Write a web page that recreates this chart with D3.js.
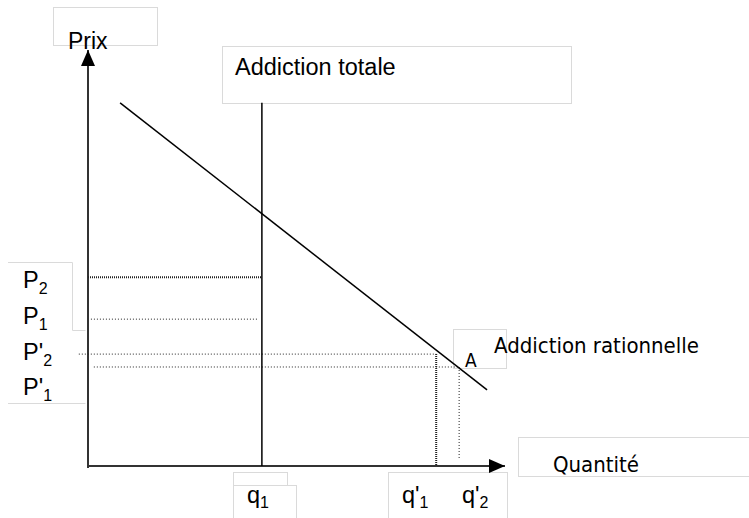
<!DOCTYPE html>
<html>
<head>
<meta charset="utf-8">
<script src="https://cdn.jsdelivr.net/npm/d3@7"></script>
<style>
  body { margin: 0; background: #fff; }
  text { fill: #000; }
</style>
</head>
<body>
<div id="dataviz"></div>
<script>
// values in diagram units (quantity 0..10, price 0..10)
const demandQ = [0.77, 9.57];
const demandP = [8.73, 1.83];
const totalQ = 4.17;          // addiction totale (vertical)
const totalTopP = 8.73;
const priceNames = ["P2", "P1", "P'2", "P'1"];
const priceVals = [4.54, 3.53, 2.69, 2.38];
const priceFromQ = [0, 0.07, -0.22, 0.14];
const priceToQ = [4.17, 4.08, 8.35, 8.9];
const qNames = ["q1", "q'1", "q'2"];
const qVals = [4.17, 8.35, 8.9];
const qTopP = [null, 2.69, 2.38];
const qBottomP = [null, 0, 0.19];

const width = 749, height = 518;

const svg = d3.select("#dataviz")
  .append("svg")
  .attr("width", width)
  .attr("height", height);

const x = d3.scaleLinear().domain([0, 10]).range([88, 505]);
const y = d3.scaleLinear().domain([0, 10]).range([466, 50]);

// faint text boxes (layout only)
const boxes = [
  [53, 7, 104, 38], [222, 46, 349, 57],
  [453, 329, 53, 39], [233, 472, 54, 50], [233, 485, 63, 40],
  [388, 472, 119, 50], [518, 437, 240, 39]
];
svg.selectAll("rect.box")
  .data(boxes)
  .join("rect")
  .attr("class", "box")
  .attr("x", d => d[0] + 0.5).attr("y", d => d[1] + 0.5)
  .attr("width", d => d[2]).attr("height", d => d[3])
  .attr("fill", "#fff")
  .attr("stroke", "#dadada");

// open box edges behind the price labels
svg.append("path")
  .attr("d", "M8,262.5H72.5V330.5H85.5M8,403.5H85.5")
  .attr("fill", "none")
  .attr("stroke", "#dadada");

// arrow marker
const defs = svg.append("defs");
defs.append("marker")
  .attr("id", "arrow")
  .attr("viewBox", "0 0 16 14")
  .attr("refX", 16).attr("refY", 7)
  .attr("markerWidth", 16).attr("markerHeight", 14)
  .attr("markerUnits", "userSpaceOnUse")
  .attr("orient", "auto")
  .append("path")
  .attr("d", "M0,0L16,7L0,14Z")
  .attr("fill", "#000");

// axes
svg.append("line")
  .attr("x1", x(0)).attr("y1", y(-0.05))
  .attr("x2", x(0)).attr("y2", y(10))
  .attr("stroke", "#333").attr("stroke-width", 2)
  .attr("marker-end", "url(#arrow)");
svg.append("line")
  .attr("x1", x(0)).attr("y1", y(0))
  .attr("x2", x(10)).attr("y2", y(0))
  .attr("stroke", "#333").attr("stroke-width", 2)
  .attr("marker-end", "url(#arrow)");

// price dotted lines
svg.selectAll("line.pline")
  .data(priceVals)
  .join("line")
  .attr("class", "pline")
  .attr("x1", (d, i) => x(priceFromQ[i]))
  .attr("x2", (d, i) => x(priceToQ[i]))
  .attr("y1", d => y(d)).attr("y2", d => y(d))
  .attr("stroke", "#222")
  .attr("stroke-width", (d, i) => i == 0 ? 2 : 1)
  .attr("stroke-dasharray", (d, i) => i == 0 ? "1,1" : "1,2");

// quantity dotted lines
svg.selectAll("line.qline")
  .data(qVals.slice(1))
  .join("line")
  .attr("class", "qline")
  .attr("x1", d => x(d)).attr("x2", d => x(d))
  .attr("y1", (d, i) => y(qTopP[i + 1]))
  .attr("y2", (d, i) => y(qBottomP[i + 1]))
  .attr("stroke", "#222")
  .attr("stroke-width", (d, i) => i == 0 ? 2 : 1)
  .attr("stroke-dasharray", (d, i) => i == 0 ? "1,1" : "1,2");

// addiction totale
svg.append("line")
  .attr("x1", x(totalQ)).attr("x2", x(totalQ))
  .attr("y1", y(totalTopP)).attr("y2", y(0))
  .attr("stroke", "#000").attr("stroke-width", 1.5);

// demand
svg.append("line")
  .attr("x1", x(demandQ[0])).attr("y1", y(demandP[0]))
  .attr("x2", x(demandQ[1])).attr("y2", y(demandP[1]))
  .attr("stroke", "#000").attr("stroke-width", 1.5);

// texts
const arial = "'Liberation Sans', Arial, sans-serif";
const tahoma = "'DejaVu Sans Condensed', 'DejaVu Sans', sans-serif";

svg.append("text").attr("x", 68).attr("y", 49)
  .style("font", `23px ${arial}`).text("Prix");
svg.append("text").attr("x", 235).attr("y", 75)
  .style("font", `23.5px ${arial}`).text("Addiction totale");
svg.append("text").attr("x", 465).attr("y", 367)
  .style("font", `19px ${tahoma}`).text("A");
svg.append("text").attr("x", 494).attr("y", 353)
  .style("font", `22px ${tahoma}`).text("Addiction rationnelle");
svg.append("text").attr("x", 553).attr("y", 472)
  .style("font", `22px ${tahoma}`).text("Quantité");

// price labels with subscript
const pLabelY = [288, 324, 360, 395];
priceNames.forEach((name, i) => {
  const base = name.slice(0, -1), sub = name.slice(-1);
  const t = svg.append("text").attr("x", 23).attr("y", pLabelY[i])
    .style("font", `23.5px ${arial}`);
  t.append("tspan").text(base);
  t.append("tspan").attr("dy", 6).style("font-size", "16px").text(sub);
});

const qLabelX = [247, 402, 462];
qNames.forEach((name, i) => {
  const base = name.slice(0, -1), sub = name.slice(-1);
  const t = svg.append("text").attr("x", qLabelX[i]).attr("y", 503)
    .style("font", `23.5px ${arial}`);
  t.append("tspan").text(base);
  t.append("tspan").attr("dy", 5).style("font-size", "16px").text(sub);
});
</script>
</body>
</html>
